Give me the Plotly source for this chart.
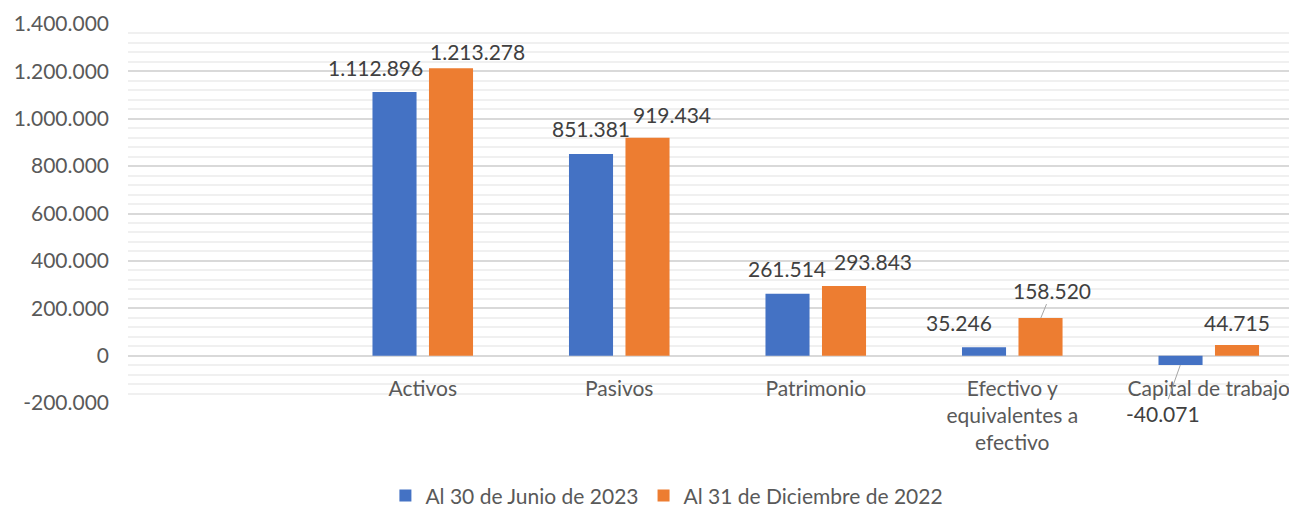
import plotly.graph_objects as go

categories = ["Activos", "Pasivos", "Patrimonio", "Efectivo y<br>equivalentes a<br>efectivo", "Capital de trabajo"]
series_names = ["Al 30 de Junio de 2023", "Al 31 de Diciembre de 2022"]
jun_2023 = [1112896, 851381, 261514, 35246, -40071]
dic_2022 = [1213278, 919434, 293843, 158520, 44715]
y_tick_values = [-200000, 0, 200000, 400000, 600000, 800000, 1000000, 1200000, 1400000]

colors = ["#4472C4", "#ED7D31"]
FONT = "Lato"


def fmt(v):
    return f"{v:,}".replace(",", ".")


y_tick_labels = [fmt(v) for v in y_tick_values]

fig = go.Figure()
for name, vals, col in zip(series_names, [jun_2023, dic_2022], colors):
    fig.add_trace(go.Bar(x=categories, y=vals, name=name, marker_color=col,
                         marker_line_width=0, hoverinfo="skip"))

# label placement (pixel offsets from bar centre / bar end): (dx, dy, leader)
label_style = {
    0: [(-19, 25, False), (0, 25.5, False), (0, 25, False), (-24.5, 25, False), (-17, -48, True)],
    1: [(26.5, 17, False), (24, 23, False), (28.5, 25, False), (11.5, 28, True), (0, 23, False)],
}
bar_offset = {0: -28.5, 1: 28.5}

annotations = []
for si, vals in enumerate([jun_2023, dic_2022]):
    for ci, (cat, v) in enumerate(zip(categories, vals)):
        dx, dy, leader = label_style[si][ci]
        if leader:
            annotations.append(dict(
                x=cat, y=v, xref="x", yref="y", text=fmt(v), showarrow=True,
                arrowhead=0, arrowwidth=1, arrowcolor="#A6A6A6",
                ax=dx, ay=-dy, xshift=bar_offset[si],
                font=dict(family=FONT, size=21, color="#404040")))
        else:
            annotations.append(dict(
                x=cat, y=v, xref="x", yref="y", text=fmt(v), showarrow=False,
                xshift=bar_offset[si] + dx, yshift=dy if v >= 0 else -dy,
                xanchor="center", yanchor="middle",
                font=dict(family=FONT, size=21, color="#404040")))

fig.update_layout(
    width=1289, height=500,
    margin=dict(l=120, r=0, t=16, b=105, autoexpand=False),
    paper_bgcolor="white", plot_bgcolor="white",
    barmode="group", bargap=0.425, bargroupgap=0.22,
    font=dict(family=FONT, size=21, color="#595959"),
    showlegend=True,
    legend=dict(orientation="h", x=0.461, xanchor="center", y=-0.245, yanchor="middle",
                font=dict(family=FONT, size=21, color="#595959"), itemwidth=30),
    annotations=annotations,
)
fig.update_yaxes(
    range=[-200000, 1400000], tickvals=y_tick_values, ticktext=y_tick_labels,
    showgrid=True, gridcolor="#D9D9D9", gridwidth=1.5,
    minor=dict(dtick=40000, showgrid=True, gridcolor="#F0F0F0", gridwidth=1.5),
    zeroline=True, zerolinecolor="#D9D9D9", zerolinewidth=1.5,
    showline=False, ticks="", automargin=False, ticklabelstandoff=18,
    tickfont=dict(family=FONT, size=21, color="#595959"),
)
fig.update_xaxes(
    range=[-1.5, 4.449], anchor="free", position=0.125,
    showgrid=False, showline=False, zeroline=False,
    ticks="outside", ticklen=14, tickcolor="rgba(0,0,0,0)",
    automargin=False,
    tickfont=dict(family=FONT, size=21, color="#595959"),
)

fig.write_html("out.html")
